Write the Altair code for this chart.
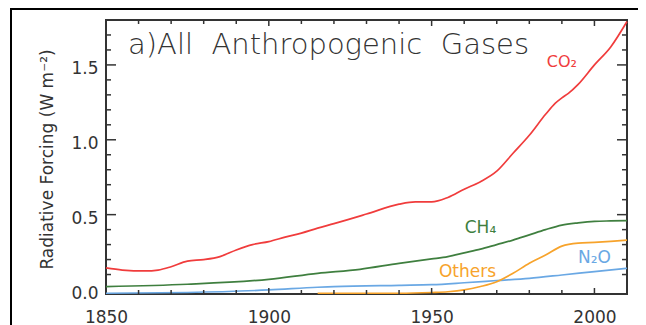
import altair as alt
import pandas as pd

# ---- data ----
co2_years = [1850, 1855, 1862, 1866, 1870, 1875, 1880, 1885, 1890, 1895, 1900, 1905, 1910, 1915,
             1920, 1930, 1940, 1945, 1950, 1955, 1960, 1965, 1970, 1975, 1980, 1985, 1988, 1990,
             1992, 1995, 2000, 2005, 2010]
co2_vals = [0.144, 0.13, 0.124, 0.13, 0.152, 0.19, 0.20, 0.22, 0.264, 0.30, 0.32, 0.35, 0.377, 0.41,
            0.44, 0.504, 0.57, 0.585, 0.585, 0.615, 0.67, 0.72, 0.79, 0.91, 1.03, 1.17, 1.245, 1.28,
            1.31, 1.37, 1.50, 1.62, 1.79]

ch4_years = [1850, 1875, 1900, 1915, 1928, 1940, 1950, 1955, 1960, 1965, 1970, 1975, 1980, 1985,
             1990, 1995, 2000, 2005, 2010]
ch4_vals = [0.019, 0.035, 0.068, 0.108, 0.135, 0.175, 0.204, 0.22, 0.245, 0.27, 0.30, 0.33, 0.365,
            0.40, 0.43, 0.445, 0.455, 0.458, 0.46]

n2o_years = [1850, 1875, 1900, 1915, 1920, 1940, 1950, 1960, 1970, 1980, 1990, 2000, 2010]
n2o_vals = [-0.025, -0.02, -0.003, 0.015, 0.019, 0.028, 0.032, 0.045, 0.06, 0.075, 0.097, 0.12, 0.142]

oth_years = [1915, 1940, 1950, 1955, 1960, 1965, 1970, 1975, 1980, 1985, 1990, 1995, 2000, 2005, 2010]
oth_vals = [-0.025, -0.025, -0.02, -0.015, -0.003, 0.02, 0.052, 0.108, 0.175, 0.23, 0.29, 0.31,
            0.315, 0.322, 0.33]

gases = ["CO2", "CH4", "N2O", "Others"]
gas_colors = ["#f03c3c", "#3f7f3f", "#6aa8e4", "#f7a32b"]

label_gas = ["CO2", "CH4", "Others", "N2O"]
label_text = ["CO₂", "CH₄", "Others", "N₂O"]
label_year = [1990, 1965, 1961, 2000]
label_val = [1.52, 0.41, 0.117, 0.21]
label_size = [16, 17, 17, 17]

x_label_vals = [1850, 1900, 1950, 2000]
y_label_vals = [0.0, 0.5, 1.0, 1.5]
x_major_ticks = [1900, 1950, 2000]
x_minor_ticks = [1860, 1870, 1880, 1890, 1910, 1920, 1930, 1940, 1960, 1970, 1980, 1990]
y_major_ticks = [0.5, 1.0, 1.5]
y_minor_ticks = [0.1, 0.2, 0.3, 0.4, 0.6, 0.7, 0.8, 0.9, 1.1, 1.2, 1.3, 1.4, 1.6, 1.7]

panel_title = "a)All\u00a0\u00a0Anthropogenic\u00a0\u00a0Gases"

W, H = 521, 274
FONT = "DejaVu Sans"
AX = "#333333"

# ---- tables ----
rows = []
for g, ys, vs in [("CO2", co2_years, co2_vals), ("CH4", ch4_years, ch4_vals),
                  ("N2O", n2o_years, n2o_vals), ("Others", oth_years, oth_vals)]:
    for y, v in zip(ys, vs):
        rows.append({"gas": g, "year": y, "rf": v})
df = pd.DataFrame(rows)

lab = pd.DataFrame({"gas": label_gas, "text": label_text, "year": label_year,
                    "rf": label_val, "size": label_size})

xscale = alt.Scale(domain=[1850, 2010], nice=False, zero=False)
yscale = alt.Scale(domain=[-0.03, 1.8], nice=False, zero=False)
cscale = alt.Scale(domain=gases, range=gas_colors)

xaxis = alt.Axis(values=x_label_vals, format="d", ticks=False, tickSize=0, domain=False,
                 grid=False, labelFont=FONT, labelFontSize=17, labelColor=AX,
                 labelPadding=15, labelFlush=False, title=None)
yaxis = alt.Axis(values=y_label_vals, format=".1f", ticks=False, tickSize=0, domain=False,
                 grid=False, labelFont=FONT, labelFontSize=17, labelColor=AX,
                 labelPadding=8, labelOffset=4, labelFlush=False,
                 title="Radiative Forcing (W m⁻²)", titleFont=FONT, titleFontSize=17,
                 titleFontWeight="normal", titleColor=AX, titleX=-59, titleY=H / 2 + 2,
                 titleAngle=-90, titleBaseline="middle", titleAlign="center")

lines = alt.Chart(df).mark_line(strokeWidth=1.7, interpolate="monotone").encode(
    x=alt.X("year:Q", scale=xscale, axis=xaxis),
    y=alt.Y("rf:Q", scale=yscale, axis=yaxis),
    color=alt.Color("gas:N", scale=cscale, legend=None),
)

labels = alt.Chart(lab).mark_text(font=FONT, align="center", baseline="middle").encode(
    x=alt.X("year:Q", scale=xscale, axis=xaxis),
    y=alt.Y("rf:Q", scale=yscale, axis=yaxis),
    text="text:N",
    color=alt.Color("gas:N", scale=cscale, legend=None),
    size=alt.Size("size:Q", scale=None, legend=None),
)

one = pd.DataFrame({"t": [panel_title]})
title = alt.Chart(one).mark_text(font=FONT, fontSize=29, fontWeight=200, color="#333333",
                                 align="left", baseline="middle").encode(
    x=alt.value(22), y=alt.value(25), text="t:N")


def yticks(vals, length, right):
    d = pd.DataFrame({"rf": vals})
    x0 = W if right else 0
    x1 = W - length if right else length
    return alt.Chart(d).mark_rule(color=AX, strokeWidth=1.5).encode(
        y=alt.Y("rf:Q", scale=yscale, axis=yaxis), x=alt.value(x0), x2=alt.value(x1))


def xticks(vals, length, top):
    d = pd.DataFrame({"year": vals})
    y0 = 0 if top else H
    y1 = length if top else H - length
    return alt.Chart(d).mark_rule(color=AX, strokeWidth=1.5).encode(
        x=alt.X("year:Q", scale=xscale, axis=xaxis), y=alt.value(y0), y2=alt.value(y1))


ticks = [
    yticks(y_major_ticks, 10, False), yticks(y_minor_ticks, 5, False),
    yticks(y_major_ticks, 10, True), yticks(y_minor_ticks, 5, True),
    xticks(x_major_ticks, 6, False), xticks(x_minor_ticks, 4, False),
    xticks(x_major_ticks, 6, True), xticks(x_minor_ticks, 4, True),
]

frame = alt.Chart(pd.DataFrame({"a": [0]})).mark_rect(
    filled=False, stroke="black", strokeWidth=2).encode(
    x=alt.value(-95), x2=alt.value(W + 60), y=alt.value(-11), y2=alt.value(H + 60))

chart = alt.layer(lines, *ticks, labels, title, frame).properties(
    width=W, height=H,
    padding={"left": 98, "top": 12, "right": 11, "bottom": 31},
    autosize=alt.AutoSizeParams(type="none"),
    background="white",
).configure_view(stroke=AX, strokeWidth=2)

chart.save("out.html", embed_options={"renderer": "svg", "actions": False})
